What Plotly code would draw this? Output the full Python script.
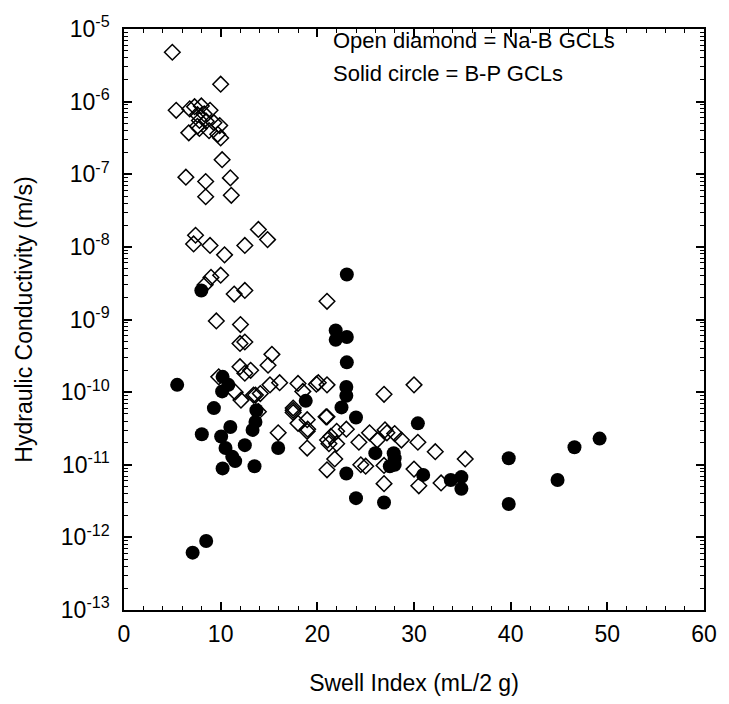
import plotly.graph_objects as go

# Na-B GCLs (open diamonds): swell index (mL/2 g), log10 hydraulic conductivity (m/s)
nab_si = [5.0, 10.0, 5.4, 6.8, 7.3, 8.0, 8.9, 7.6, 8.3, 7.8, 8.5, 9.3, 7.6, 9.9, 8.8, 7.8, 6.7, 9.7, 10.0,
          10.15, 6.4, 8.45, 11.0, 8.45, 11.1, 7.4, 7.2, 8.9, 10.4, 12.5, 13.9, 14.85, 9.0, 10.0, 8.4,
          11.4, 12.5, 9.55, 12.05, 12.0, 12.5, 15.3, 14.9, 12.0, 13.1, 9.8, 11.5, 12.1, 13.6, 14.1,
          13.9, 15.1, 16.1, 18.0, 18.5, 19.9, 17.5, 17.5, 17.5, 18.0, 18.95, 18.95, 18.95, 15.95,
          21.0, 20.1, 21.0, 26.9, 30.0, 21.0, 19.0, 23.0, 22.0, 21.06, 21.4, 21.2, 22.0, 21.8, 21.0,
          24.3, 24.5, 25.0, 25.4, 26.2, 27.0, 27.2, 28.0, 28.7, 26.9, 26.9, 30.0, 30.4, 30.5, 32.2,
          32.8, 35.3, 13.4, 20.9, 12.5]
nab_logk = [-5.32, -5.76, -6.12, -6.10, -6.07, -6.06, -6.12, -6.18, -6.17, -6.26, -6.27, -6.29, -6.34,
            -6.33, -6.40, -6.37, -6.43, -6.45, -6.50, -6.80, -7.04, -7.10, -7.05, -7.31, -7.29, -7.84,
            -7.96, -7.98, -8.11, -7.98, -7.76, -7.90, -8.42, -8.39, -8.52, -8.65, -8.60, -9.02, -9.07,
            -9.33, -9.31, -9.48, -9.63, -9.65, -9.70, -9.79, -10.00, -10.11, -10.04, -10.02, -10.27,
            -9.90, -9.87, -9.88, -9.99, -9.89, -10.22, -10.25, -10.28, -10.43, -10.38, -10.54, -10.77,
            -10.56, -8.75, -9.87, -9.90, -10.03, -9.90, -10.34, -10.51, -10.51, -10.54, -10.66, -10.61,
            -10.71, -10.71, -10.92, -11.07, -10.69, -11.00, -11.02, -10.56, -10.66, -10.52, -10.56,
            -10.57, -10.66, -11.01, -11.26, -11.06, -10.69, -11.29, -10.82, -11.25, -10.92, -10.04,
            -10.34, -9.74]

# B-P GCLs (solid circles)
bp_si = [8.0, 10.2, 5.5, 10.15, 10.8, 9.3, 8.05, 11.0, 10.05, 10.5, 11.2, 11.5, 10.2, 12.5, 13.5, 13.7,
         13.6, 13.3, 15.95, 18.8, 8.5, 7.1, 23.05, 21.9, 21.9, 23.05, 23.05, 23.0, 23.0, 22.5, 24.0,
         26.0, 27.9, 28.0, 27.5, 28.0, 23.0, 30.95, 33.8, 34.9, 34.9, 24.0, 26.9, 39.8, 39.8, 46.6,
         49.2, 44.85, 30.4]
bp_logk = [-8.60, -9.79, -9.90, -9.99, -9.90, -10.22, -10.58, -10.48, -10.61, -10.77, -10.89, -10.95,
           -11.05, -10.73, -11.02, -10.25, -10.41, -10.52, -10.77, -10.12, -12.05, -12.21, -8.38, -9.15,
           -9.28, -9.24, -9.59, -9.93, -10.05, -10.21, -10.35, -10.84, -10.84, -10.91, -11.02, -11.00,
           -11.12, -11.14, -11.21, -11.17, -11.33, -11.46, -11.52, -10.91, -11.54, -10.76, -10.64,
           -11.21, -10.43]

y_exps = list(range(-13, -4))
y_ticktext = ["10<sup>%d</sup>" % e for e in y_exps]
x_ticks = [0, 10, 20, 30, 40, 50, 60]

nab_k = [10 ** v for v in nab_logk]
bp_k = [10 ** v for v in bp_logk]

FONT = "Liberation Sans, Arial, sans-serif"

fig = go.Figure()
fig.add_trace(go.Scatter(x=nab_si, y=nab_k, mode="markers", name="Na-B GCLs",
                         marker=dict(symbol="diamond-open", size=12, color="black",
                                     line=dict(width=1.5, color="black"))))
fig.add_trace(go.Scatter(x=bp_si, y=bp_k, mode="markers", name="B-P GCLs",
                         marker=dict(symbol="circle", size=14, color="black",
                                     line=dict(width=0))))

minor_vals = [k * 10 ** e for e in range(-13, -5) for k in range(2, 10)]

fig.update_layout(
    width=729, height=704,
    margin=dict(l=124, r=18, t=27, b=93),
    paper_bgcolor="white", plot_bgcolor="white",
    showlegend=False,
    font=dict(family=FONT, size=23, color="black"),
    xaxis=dict(range=[0, 60], tickvals=x_ticks, ticks="inside", ticklen=8, tickwidth=1.5,
               tickcolor="black", showline=True, linewidth=1.5, linecolor="black", mirror="ticks",
               showgrid=False, zeroline=False, tickfont=dict(size=23), ticklabelstandoff=3,
               minor=dict(dtick=2, ticks="inside", ticklen=4, tickwidth=1.2, tickcolor="black"),
               title=dict(text="Swell Index (mL/2 g)", font=dict(size=23), standoff=29)),
    yaxis=dict(type="log", range=[-13, -5], tickvals=[10 ** e for e in y_exps], ticktext=y_ticktext,
               ticks="inside", ticklen=8, tickwidth=1.5, tickcolor="black", showline=True,
               linewidth=1.5, linecolor="black", mirror="ticks", showgrid=False, zeroline=False,
               tickfont=dict(size=23), ticklabelstandoff=8,
               minor=dict(tickvals=minor_vals, ticks="inside", ticklen=4, tickwidth=1.2,
                          tickcolor="black"),
               title=dict(text="Hydraulic Conductivity (m/s)", font=dict(size=23), standoff=22)),
    annotations=[
        dict(text="Open diamond = Na-B GCLs", xref="paper", yref="paper", x=0.357, y=0.98,
             xanchor="left", yanchor="middle", showarrow=False, font=dict(size=22)),
        dict(text="Solid circle = B-P GCLs", xref="paper", yref="paper", x=0.357, y=0.923,
             xanchor="left", yanchor="middle", showarrow=False, font=dict(size=22)),
    ],
)

fig.write_html("out.html")
